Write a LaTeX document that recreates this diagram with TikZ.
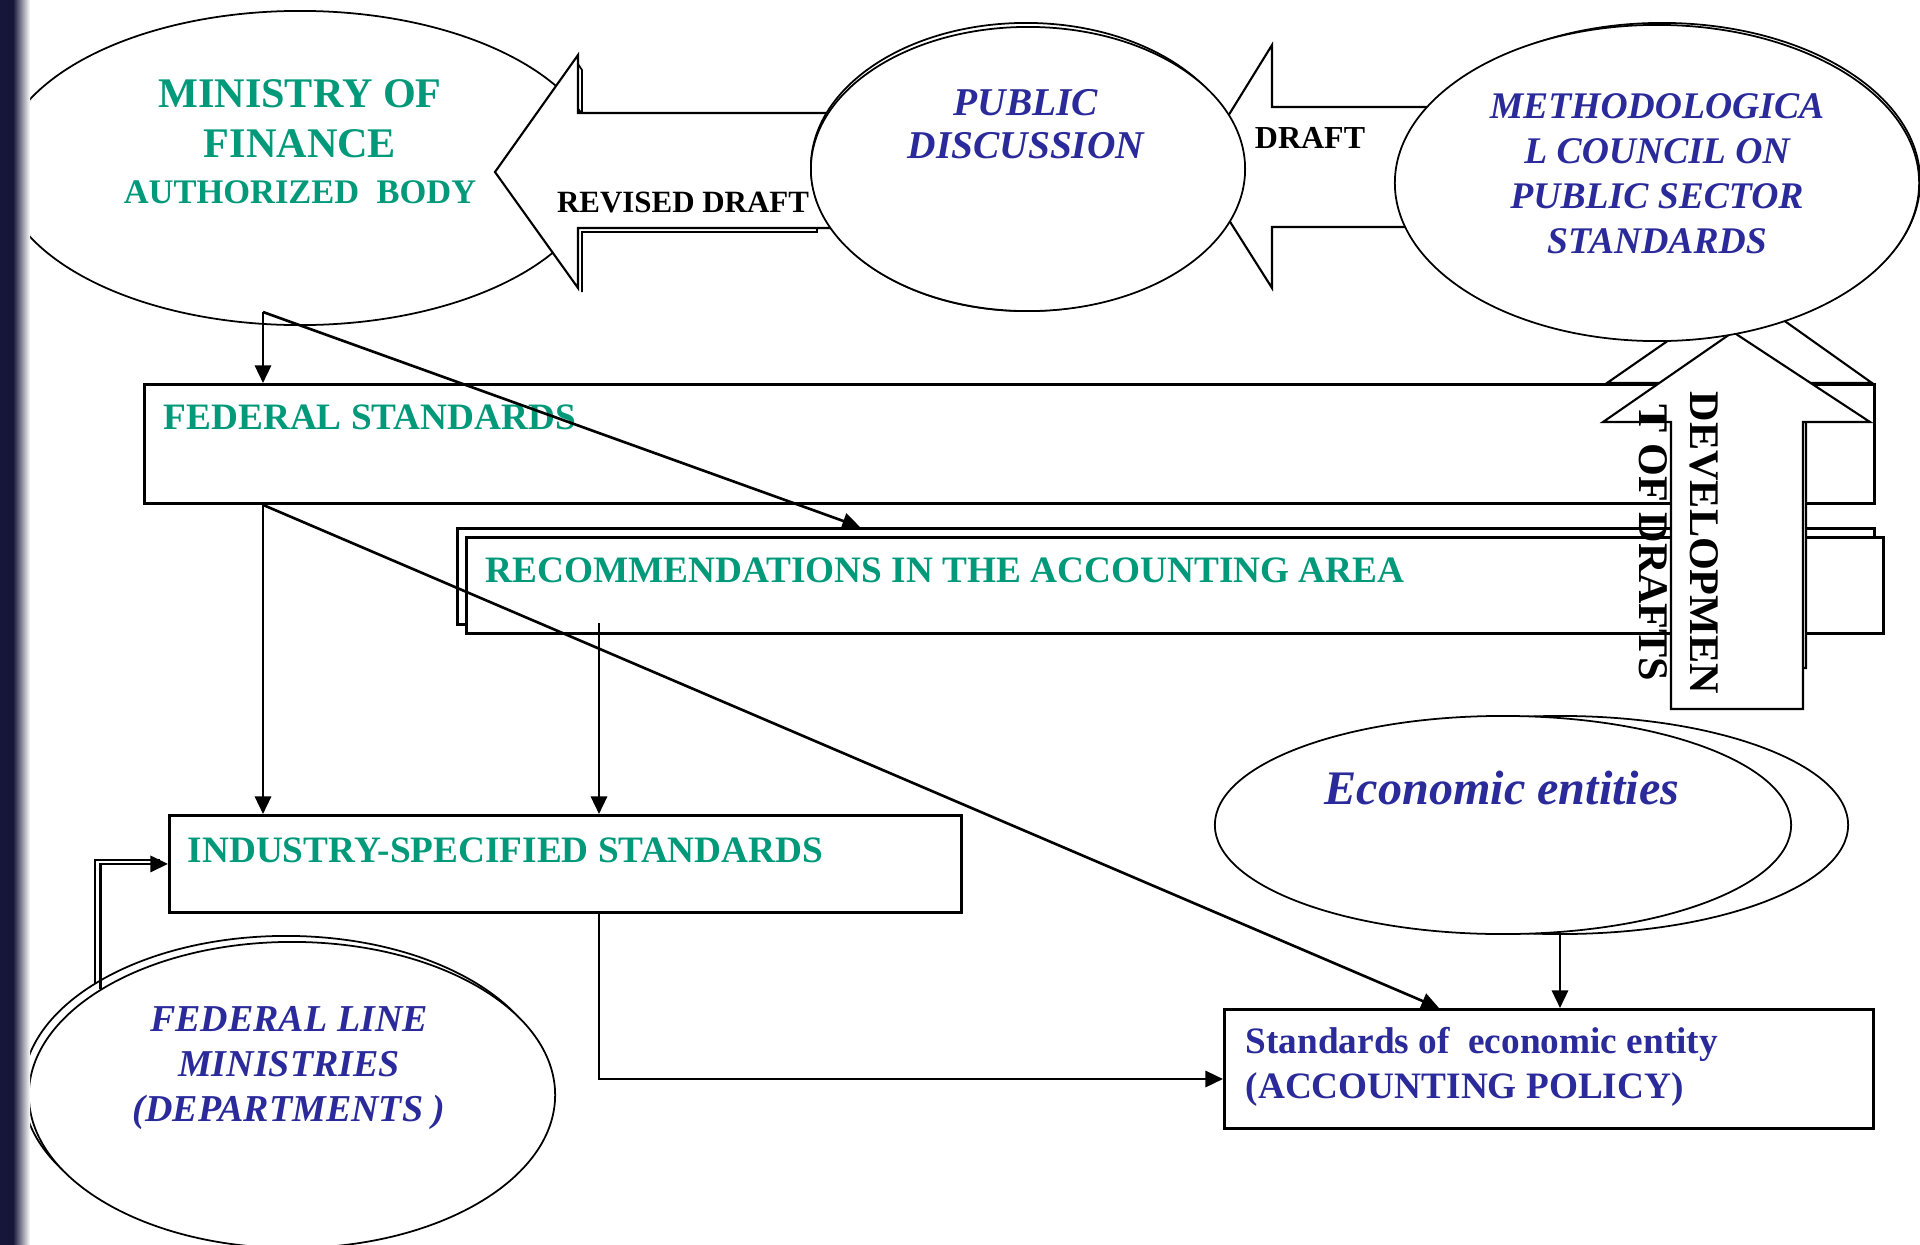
\documentclass[tikz,border=0pt]{standalone}
\usepackage{fontspec}
\setmainfont{Liberation Serif}
\usetikzlibrary{shapes.geometric}
\usetikzlibrary{arrows.meta}
\usetikzlibrary{positioning}
\usetikzlibrary{calc}

\definecolor{mofgreen}{RGB}{0,153,122}
\definecolor{entblue}{RGB}{42,42,155}
\definecolor{stripe}{RGB}{22,22,58}

\tikzset{
  ell/.style={ellipse, draw, fill=white, line width=0.5pt, inner sep=0pt},
  boxnode/.style={rectangle, draw, fill=white, line width=0.8pt, inner sep=0pt, anchor=north west},
  bigarrow/.style={draw, fill=white, line width=0.6pt, line join=miter},
  greentxt/.style={text=mofgreen, inner sep=0pt, align=center},
  bluetxt/.style={text=entblue, inner sep=0pt, align=center},
  blacktxt/.style={text=black, inner sep=0pt, align=center},
  conn/.style={-{Triangle[length=5pt,width=4.6pt]}, line width=0.75pt},
}

\begin{document}
\begin{tikzpicture}[x=0.01cm, y=-0.01cm]
\clip (0,0) rectangle (1920,1245);
\fill[white] (0,0) rectangle (1920,1245);

% top row
\node[ell, minimum width=6cm, minimum height=3.14cm] (mof) at (300,168) {};
\draw[bigarrow] (495,172) -- (578,55) -- (578,113) -- (830,113) -- (830,228)
  -- (578,228) -- (578,288) -- cycle;
\draw[line width=0.5pt] (578,64) -- (582,70) -- (582,113)
  (817,228) -- (817,232) -- (582,232) -- (582,292);
\draw[bigarrow] (1196,168) -- (1272,45) -- (1272,107) -- (1440,107) -- (1440,227)
  -- (1272,227) -- (1272,288) -- cycle;
\node[ell, minimum width=4.30cm, minimum height=2.88cm] (pubsh) at (1026,167) {};
\node[ell, minimum width=4.34cm, minimum height=2.84cm] (pub) at (1028,169) {};

% boxes
\node[boxnode, minimum width=17.29cm, minimum height=1.19cm] (fs) at (143,383) {};
\node[boxnode, minimum width=14.16cm, minimum height=0.96cm] (recb) at (456,527) {};
\node[boxnode, minimum width=14.16cm, minimum height=0.96cm] (rec) at (465,536) {};
\node[boxnode, minimum width=7.92cm, minimum height=0.97cm] (ind) at (168,814) {};
\node[boxnode, minimum width=6.49cm, minimum height=1.19cm] (std) at (1223,1008) {};

% development of drafts
\draw[bigarrow] (1679,668) -- (1679,383) -- (1607,383) -- (1741,290) -- (1872,383)
  -- (1806,383) -- (1806,668) -- cycle;
\draw[bigarrow] (1671,709) -- (1671,422) -- (1603,422) -- (1733,332) -- (1870,422)
  -- (1803,422) -- (1803,709) -- cycle;

\node[ell, minimum width=5.16cm, minimum height=3.16cm] (methsh) at (1662,181) {};
\node[ell, minimum width=5.24cm, minimum height=3.16cm] (meth) at (1657,183) {};

\node[ell, minimum width=5.76cm, minimum height=2.18cm] (econb) at (1560,825) {};
\node[ell, minimum width=5.76cm, minimum height=2.18cm] (econ) at (1503,825) {};

\node[ell, minimum width=5.26cm, minimum height=3.06cm] (fedsh) at (286,1089) {};
\node[ell, minimum width=5.26cm, minimum height=3.06cm] (fed) at (292,1095) {};

% texts
\node[greentxt, font=\fontsize{12}{14.2}\selectfont\bfseries] (moftxt) at (300,142)
  {MINISTRY OF\\FINANCE\\[-1.2pt]{\fontsize{9.8}{12}\selectfont AUTHORIZED\ \ BODY}};
\node[blacktxt, font=\fontsize{8.8}{10}\selectfont\bfseries] (revtxt) at (683,202) {REVISED DRAFT};
\node[blacktxt, font=\fontsize{9.1}{10}\selectfont\bfseries] (drafttxt) at (1310,138) {DRAFT};
\node[bluetxt, font=\fontsize{11.2}{12.2}\selectfont\bfseries\itshape] (pubtxt) at (1026,124)
  {PUBLIC\\DISCUSSION};
\node[bluetxt, font=\fontsize{10.7}{12.8}\selectfont\bfseries\itshape] (methtxt) at (1657,174)
  {METHODOLOGICA\\L COUNCIL ON\\PUBLIC SECTOR\\STANDARDS};
\node[blacktxt, font=\fontsize{12}{14.5}\selectfont\bfseries, rotate=-90] (devtxt) at (1679,543)
  {DEVELOPMEN\\T OF DRAFTS};
\node[greentxt, font=\fontsize{10.6}{13}\selectfont\bfseries, anchor=base west] (fstxt) at (163,429)
  {FEDERAL STANDARDS};
\node[greentxt, font=\fontsize{10.6}{13}\selectfont\bfseries, anchor=base west] (rectxt) at (485,582)
  {RECOMMENDATIONS IN THE ACCOUNTING AREA};
\node[greentxt, font=\fontsize{10.6}{13}\selectfont\bfseries, anchor=base west] (indtxt) at (187,862)
  {INDUSTRY-SPECIFIED STANDARDS};
\node[bluetxt, font=\fontsize{13.7}{15}\selectfont\bfseries\itshape] (econtxt) at (1502,788)
  {Economic entities};
\node[bluetxt, font=\fontsize{10.8}{12.8}\selectfont\bfseries\itshape] (fedtxt) at (289,1068)
  {FEDERAL LINE\\MINISTRIES\\(DEPARTMENTS )};
\node[bluetxt, font=\fontsize{10.6}{12.8}\selectfont\bfseries, align=left, anchor=west] (stdtxt) at (1245,1067)
  {Standards of\ \ economic entity\\(ACCOUNTING POLICY)};

% connectors
\coordinate (mofout) at (263,312);
\coordinate (recin) at (860,527);
\coordinate (recout) at (599,623);
\coordinate (stdin) at (1439,1008);
\coordinate (stdleft) at (1223,1079);
\draw[conn] (mofout) -- (mofout |- fs.north);
\draw[conn] (mofout) -- (recin);
\draw[conn] (mofout |- fs.south) -- (mofout |- ind.north);
\draw[conn] (mofout |- fs.south) -- (stdin);
\draw[conn] (recout) -- (recout |- ind.north);
\draw[conn] (recout |- ind.south) |- (stdleft);
\draw[conn] (econb.south) -- (econb.south |- std.north);
\draw[line width=0.6pt] (fedsh.151) |- ($(ind.west)+(-8,-4)$);
\draw[conn] (fed.151) |- (ind.west);

% left stripe
\fill[stripe] (0,0) rectangle (13,1245);
\shade[left color=stripe, right color=white] (13,0) rectangle (30,1245);
\end{tikzpicture}
\end{document}
